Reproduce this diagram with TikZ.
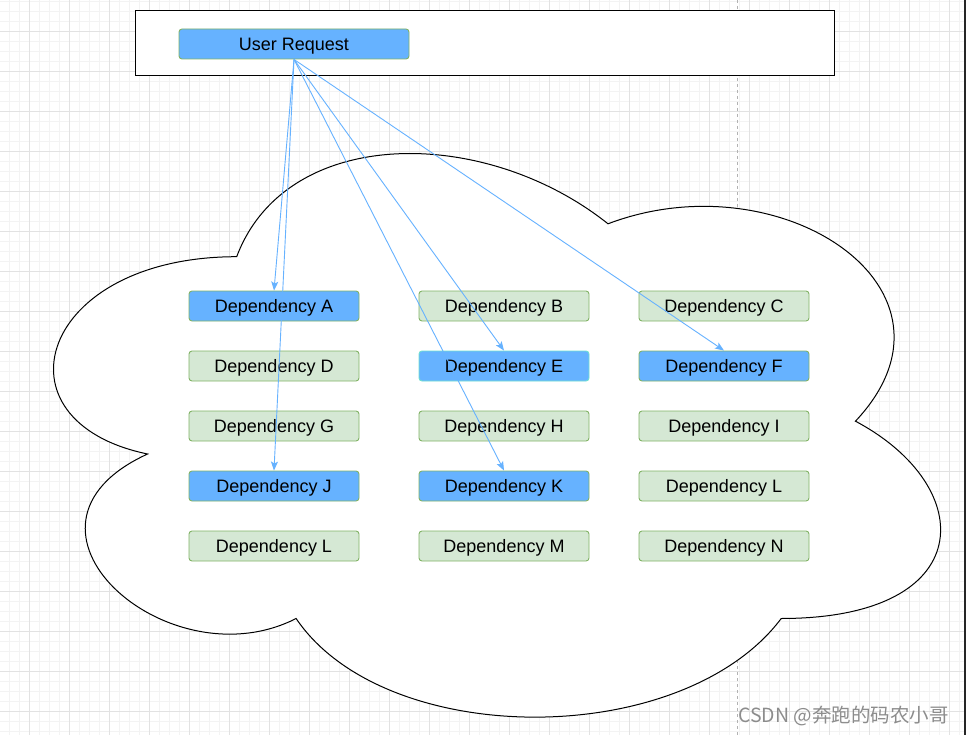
\documentclass[tikz,border=0pt]{standalone}
\usepackage{fontspec}
\setmainfont{Liberation Sans}
\newfontfamily\cjkfont{Noto Sans CJK SC}
\usetikzlibrary{arrows.meta}
\definecolor{blueFill}{HTML}{66B2FF}
\definecolor{greenFill}{HTML}{D5E8D4}
\definecolor{greenLine}{HTML}{82B366}
\definecolor{cyanLine}{HTML}{70E0D0}
\definecolor{arrowBlue}{HTML}{66B2FF}
\definecolor{gridMinor}{HTML}{F3F3F3}
\definecolor{gridMajor}{HTML}{E2E2E2}
\definecolor{wmGray}{HTML}{8C8C8C}
\tikzset{
  depbox/.style={draw=greenLine, line width=0.9pt, rounded corners=3pt,
    minimum width=170pt, minimum height=30pt, inner sep=0pt,
    text height=12.8pt, text depth=0pt,
    font=\fontsize{18}{21}\selectfont},
  greenbox/.style={depbox, fill=greenFill},
  bluebox/.style={depbox, fill=blueFill},
  link/.style={draw=arrowBlue, line width=0.9pt, -{Stealth[length=9pt,width=7pt,inset=2pt]}},
  minorline/.style={draw=gridMinor, line width=0.8pt},
  majorline/.style={draw=gridMajor, line width=1pt},
}
\begin{document}
\begin{tikzpicture}[x=1pt, y=-1pt]
\useasboundingbox (0,0) rectangle (966,735);
\fill[white] (0,0) rectangle (966,735);
% grid
\foreach \x in {9,19,...,959} \draw[minorline] (\x,0) -- (\x,735);
\foreach \y in {1.5,11.5,...,731.5} \draw[minorline] (0,\y) -- (966,\y);
\foreach \x in {29,69,...,949} \draw[majorline] (\x,0) -- (\x,735);
\foreach \y in {31.5,71.5,...,711.5} \draw[majorline] (0,\y) -- (966,\y);
% dashed page guide
\draw[draw=gray!60, line width=0.8pt, dash pattern=on 3pt off 3pt] (737,0) -- (737,735);
% right edge
\draw[draw=black!85, line width=1.6pt] (965.2,0) -- (965.2,735);
% outer rectangle
\draw[fill=white, draw=black, line width=1pt] (135,11) rectangle (834,76);
% cloud
\draw[fill=white, draw=black, line width=1pt]
  (236.7,256.7)
  .. controls (38.7,256.7) and (-10.8,421.2) .. (147.6,454.0)
  .. controls (-10.8,526.4) and (167.4,684.2) .. (296.1,618.5)
  .. controls (385.2,750) and (682.2,750) .. (781.2,618.5)
  .. controls (979.2,618.5) and (979.2,486.9) .. (855.45,421.2)
  .. controls (979.2,289.6) and (781.2,158.1) .. (608,223.8)
  .. controls (484.2,125.2) and (286.2,125.2) .. (236.7,256.7) -- cycle;
% nodes
\node[bluebox, minimum width=230pt] (U) at (294,44) {User Request};
\node[bluebox]  (A) at (274,306) {Dependency A};
\node[greenbox] (B) at (504,306) {Dependency B};
\node[greenbox] (C) at (724,306) {Dependency C};
\node[greenbox] (D) at (274,366) {Dependency D};
\node[bluebox, draw=cyanLine] (E) at (504,366) {Dependency E};
\node[bluebox]  (F) at (724,366) {Dependency F};
\node[greenbox] (G) at (274,426) {Dependency G};
\node[greenbox] (H) at (504,426) {Dependency H};
\node[greenbox] (I) at (724,426) {Dependency I};
\node[bluebox]  (J) at (274,486) {Dependency J};
\node[bluebox]  (K) at (504,486) {Dependency K};
\node[greenbox] (L) at (724,486) {Dependency L};
\node[greenbox] (L2) at (274,546) {Dependency L};
\node[greenbox] (M) at (504,546) {Dependency M};
\node[greenbox] (N) at (724,546) {Dependency N};
% connectors
\draw[link] (U.south) -- (A.north);
\draw[link] (U.south) -- (J.north);
\draw[link] (U.south) -- (E.north);
\draw[link] (U.south) -- (K.north);
\draw[link] (U.south) -- (F.north);
% watermark
\node[anchor=west, inner sep=0pt, text=wmGray, font=\cjkfont\fontsize{19.5}{22}\selectfont] (wm) at (738,716) {CSDN @奔跑的码农小哥};
\end{tikzpicture}
\end{document}
